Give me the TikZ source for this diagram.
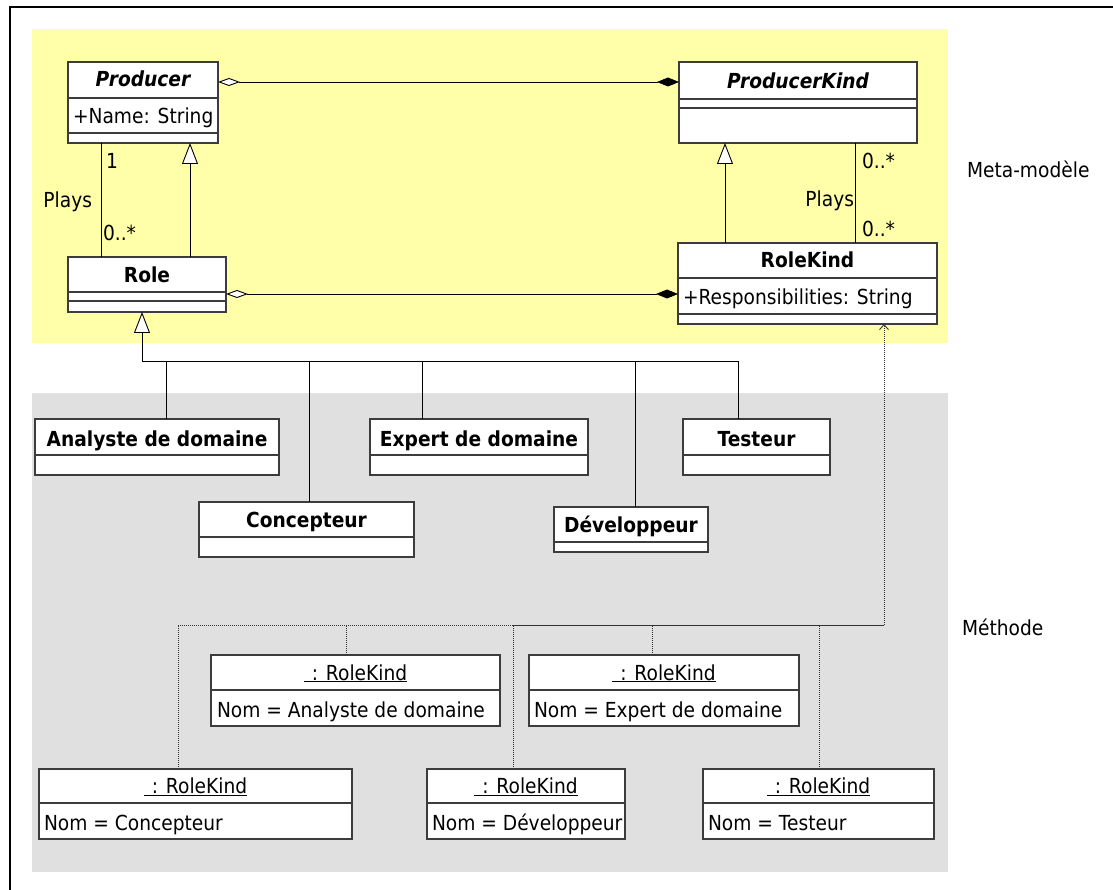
\documentclass[tikz,border=0pt]{standalone}
\usepackage{fontspec}
\setmainfont{DejaVu Sans}[FakeStretch=0.9]
\usetikzlibrary{arrows.meta}

\definecolor{metabg}{RGB}{255,255,170}
\definecolor{methbg}{RGB}{224,224,224}
\definecolor{boxline}{RGB}{60,60,60}

\tikzset{
  umlframe/.style={draw=boxline, fill=white, line width=1.2pt, inner sep=0pt, outer sep=0pt},
  umlsep/.style={draw=boxline, line width=1.2pt},
  lbl/.style={inner sep=0pt, outer sep=0pt, font=\fontsize{20.7}{24}\selectfont},
  title/.style={lbl, anchor=base, font=\fontsize{20.7}{24}\selectfont\bfseries},
  atitle/.style={lbl, anchor=base, font=\fontsize{20.7}{24}\selectfont\bfseries\itshape},
  attr/.style={lbl, anchor=base west},
  assoc/.style={draw=black, line width=0.9pt},
  gen/.style={assoc, -{Triangle[fill=white, length=21pt, width=16pt]}},
  aggr/.style={assoc, {Diamond[fill=white, length=22pt, width=8pt]}-{Diamond[length=22pt, width=9pt]}},
  dep/.style={draw=black!80, line width=0.9pt, dash pattern=on 1pt off 1pt},
}

% class box with name, attribute and operation compartments
\newcommand\umlthree[7]{%
  \node[umlframe, anchor=north west, minimum width={#4-#2}, minimum height={#5-#3}] (#1) at (#2,#3) {};
  \draw[umlsep] (#2,#6) -- (#4,#6);
  \draw[umlsep] (#2,#7) -- (#4,#7);}
% box with a title compartment and one body compartment
\newcommand\umltwo[6]{%
  \node[umlframe, anchor=north west, minimum width={#4-#2}, minimum height={#5-#3}] (#1) at (#2,#3) {};
  \draw[umlsep] (#2,#6) -- (#4,#6);}
\newcommand\objtitle{\underline{\hspace*{8pt}: RoleKind}}

\begin{document}
\begin{tikzpicture}[x=1pt, y=-1pt]
\useasboundingbox (0,0) rectangle (1113,890);
\fill[white] (0,0) rectangle (1113,890);

% package backgrounds
\fill[metabg] (32,29) rectangle (948,343);
\fill[methbg] (32,393) rectangle (948,872);
\draw[line width=2.5pt] (1113,7) -- (10,7) -- (10,890);

% meta-model classes
\umlthree{producer}{68}{62}{218}{143}{98}{133}
\umlthree{producerkind}{679}{62}{917}{143}{99}{108}
\umlthree{role}{68}{257}{226}{312}{292}{301}
\umlthree{rolekind}{678}{243}{937}{324}{278}{314}

\node[atitle] (tProducer) at (143,87) {Producer};
\node[attr] (aProducer) at (73,124) {+Name: String};
\node[atitle] (tProducerKind) at (798,89) {ProducerKind};
\node[title] (tRole) at (147,283) {Role};
\node[title] (tRoleKind) at (807.5,268) {RoleKind};
\node[attr] (aRoleKind) at (683,305) {+Responsibilities: String};

% method roles
\umltwo{analyste}{35}{419}{279}{475}{455}
\umltwo{expert}{370}{419}{588}{475}{455}
\umltwo{testeur}{683}{419}{830}{475}{455}
\umltwo{concepteur}{199}{502}{414}{557}{537}
\umltwo{developpeur}{554}{507}{708}{552}{542}

\node[title] (tAnalyste) at (157,446) {Analyste de domaine};
\node[title] (tExpert) at (479,446) {Expert de domaine};
\node[title] (tTesteur) at (756.5,446) {Testeur};
\node[title] (tConcepteur) at (306.5,527) {Concepteur};
\node[title] (tDeveloppeur) at (631,532) {Développeur};

% RoleKind instances
\umltwo{oAnalyste}{211}{655}{500}{726}{690}
\umltwo{oExpert}{529}{655}{799}{726}{690}
\umltwo{oConcepteur}{39}{769}{352}{839}{803}
\umltwo{oDeveloppeur}{427}{769}{625}{839}{803}
\umltwo{oTesteur}{703}{769}{934}{839}{803}

\node[lbl, anchor=base] (toAnalyste) at (355.5,680) {\objtitle};
\node[attr] (aoAnalyste) at (217,717) {Nom = Analyste de domaine};
\node[lbl, anchor=base] (toExpert) at (664,680) {\objtitle};
\node[attr] (aoExpert) at (534,717) {Nom = Expert de domaine};
\node[lbl, anchor=base] (toConcepteur) at (195.5,793) {\objtitle};
\node[attr] (aoConcepteur) at (44,830) {Nom = Concepteur};
\node[lbl, anchor=base] (toDeveloppeur) at (526,793) {\objtitle};
\node[attr] (aoDeveloppeur) at (432,830) {Nom = Développeur};
\node[lbl, anchor=base] (toTesteur) at (818.5,793) {\objtitle};
\node[attr] (aoTesteur) at (708,830) {Nom = Testeur};

% associations in the meta-model
\draw[aggr] ([yshift=-20pt]producer.north east) -- ([yshift=-20pt]producerkind.north west);
\draw[aggr] ([yshift=-37pt]role.north east) -- ([yshift=-51pt]rolekind.north west);
\draw[assoc] ([xshift=33pt]producer.south west) -- ([xshift=33pt]role.north west);
\draw[gen] ([xshift=122pt]role.north west) -- ([xshift=122pt]producer.south west);
\draw[gen] ([xshift=47pt]rolekind.north west) -- ([xshift=46pt]producerkind.south west);
\draw[assoc] ([xshift=176pt]producerkind.south west) -- ([xshift=177pt]rolekind.north west);

\node[attr] (m1) at (106,169) {1};
\node[lbl, anchor=base east] (pl1) at (92,208) {Plays};
\node[attr] (m2) at (103,241) {0..*};
\node[attr] (m3) at (862,169) {0..*};
\node[lbl, anchor=base east] (pl2) at (854,207) {Plays};
\node[attr] (m4) at (862,237) {0..*};

% specialisation tree of Role
\coordinate (gjoin) at (142,361);
\coordinate (gA) at (166,361);
\coordinate (gC) at (309,361);
\coordinate (gE) at (422,361);
\coordinate (gD) at (635,361);
\coordinate (gT) at (738,361);
\draw[gen] (gjoin) -- (gjoin |- role.south);
\draw[assoc] (analyste.north -| gA) -- (gA) -- (gjoin);
\draw[assoc] (concepteur.north -| gC) -- (gC) -- (gjoin);
\draw[assoc] (expert.north -| gE) -- (gE) -- (gjoin);
\draw[assoc] (developpeur.north -| gD) -- (gD) -- (gjoin);
\draw[assoc] (testeur.north -| gT) -- (gT) -- (gjoin);

% instance-of dependencies towards RoleKind
\coordinate (djoin) at (884,625);
\coordinate (dC) at (178,625);
\coordinate (dA) at (346,625);
\coordinate (dD) at (513,625);
\coordinate (dE) at (652,625);
\coordinate (dT) at (819,625);
\draw[dep, -{Straight Barb[length=5pt, width=9pt]}] (djoin) -- (djoin |- rolekind.south);
\draw[dep] (oConcepteur.north -| dC) -- (dC) -- (djoin);
\draw[dep] (oAnalyste.north -| dA) -- (dA) -- (djoin);
\draw[dep] (oDeveloppeur.north -| dD) -- (dD) -- (djoin);
\draw[dep] (oExpert.north -| dE) -- (dE) -- (djoin);
\draw[dep] (oTesteur.north -| dT) -- (dT) -- (djoin);

% package labels
\node[attr] (lMeta) at (967,178) {Meta-modèle};
\node[attr] (lMethode) at (962,635) {Méthode};
\end{tikzpicture}
\end{document}
